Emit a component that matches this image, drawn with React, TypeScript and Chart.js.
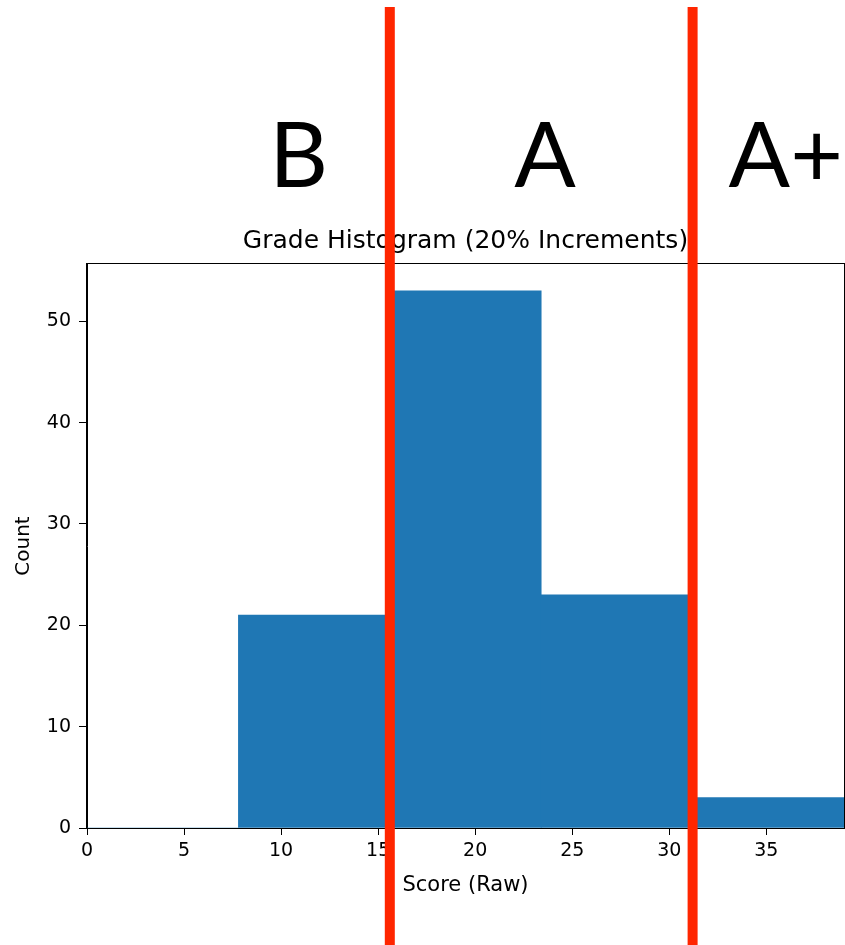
import { useEffect, useRef } from 'react';
import { Chart, registerables } from 'chart.js';

Chart.register(...registerables);

// ---- data ----
const binEdges = [0, 7.8, 15.6, 23.4, 31.2, 39];
const binCounts = [0, 21, 53, 23, 3];
const xTickValues = [0, 5, 10, 15, 20, 25, 30, 35];
const yTickValues = [0, 10, 20, 30, 40, 50];
const yMax = 55.65;
const gradeCutoffs = [15.6, 31.2];
const gradeLetters = ['B', 'A', 'A+'];
const gradeLetterX = [10.9, 23.6, 36.0];
const chartTitle = 'Grade Histogram (20% Increments)';
const xLabel = 'Score (Raw)';
const yLabel = 'Count';

const W = 845;
const H = 945;

const overlayPlugin = {
  id: 'overlay',
  afterDatasetsDraw(chart: any) {
    const { ctx, chartArea: a, scales } = chart;
    ctx.save();
    // title
    ctx.fillStyle = '#000';
    ctx.font = '25px "DejaVu Sans"';
    ctx.textAlign = 'center';
    ctx.textBaseline = 'alphabetic';
    ctx.fillText(chartTitle, (a.left + a.right) / 2, 248);
    // box spines
    ctx.strokeStyle = '#000';
    ctx.lineWidth = 1;
    ctx.strokeRect(a.left - 0.5, a.top - 0.5, a.right - a.left + 1, a.bottom - a.top + 1);
    // red cutoff lines
    ctx.fillStyle = '#ff2600';
    gradeCutoffs.forEach((v) => {
      const x = scales.x.getPixelForValue(v);
      ctx.fillRect(x - 5, 7, 10, H - 7);
    });
    // grade letters
    ctx.fillStyle = '#000';
    ctx.font = '91px Lato';
    ctx.textAlign = 'center';
    gradeLetters.forEach((t, i) => {
      ctx.fillText(t, scales.x.getPixelForValue(gradeLetterX[i]), 187);
    });
    ctx.restore();
  },
};

export default function App() {
  const ref = useRef<HTMLCanvasElement | null>(null);
  useEffect(() => {
    if (!ref.current) return;
    const centers = binCounts.map((_, i) => (binEdges[i] + binEdges[i + 1]) / 2);
    const chart = new Chart(ref.current, {
      type: 'bar',
      data: {
        datasets: [
          {
            data: centers.map((c, i) => ({ x: c, y: binCounts[i] })),
            backgroundColor: '#1f77b4',
            borderWidth: 0,
            barThickness: 'flex',
            categoryPercentage: 1,
            barPercentage: 1,
          } as any,
        ],
      },
      options: {
        animation: false,
        responsive: false,
        devicePixelRatio: 1,
        layout: { padding: { top: 264, right: 1, left: 0, bottom: 0 } },
        plugins: {
          legend: { display: false },
          title: { display: false },
          tooltip: { enabled: false },
        },
        scales: {
          x: {
            type: 'linear',
            offset: false,
            min: binEdges[0],
            max: binEdges[binEdges.length - 1],
            afterBuildTicks: (s: any) => {
              s.ticks = xTickValues.map((v) => ({ value: v }));
            },
            afterFit: (s: any) => {
              s.height = 117;
            },
            grid: { offset: false, drawOnChartArea: false, drawTicks: true, tickLength: 7, color: '#000', lineWidth: 1 },
            border: { display: true, color: '#000', width: 1 },
            ticks: {
              color: '#000',
              padding: 5,
              maxRotation: 0,
              autoSkip: false,
              font: { family: 'DejaVu Sans', size: 19 },
            },
            title: {
              display: true,
              text: xLabel,
              color: '#000',
              font: { family: 'DejaVu Sans', size: 21 },
              padding: { top: 0, bottom: 47 },
            },
          },
          y: {
            type: 'linear',
            min: 0,
            max: yMax,
            afterBuildTicks: (s: any) => {
              s.ticks = yTickValues.map((v) => ({ value: v }));
            },
            afterFit: (s: any) => {
              s.width = 87;
            },
            grid: { drawOnChartArea: false, drawTicks: true, tickLength: 8, color: '#000', lineWidth: 1 },
            border: { display: true, color: '#000', width: 1 },
            ticks: {
              color: '#000',
              padding: 8,
              autoSkip: false,
              font: { family: 'DejaVu Sans', size: 19 },
            },
            title: {
              display: true,
              text: yLabel,
              color: '#000',
              font: { family: 'DejaVu Sans', size: 20 },
              padding: { top: 12, bottom: 0 },
            },
          },
        },
      },
      plugins: [overlayPlugin],
    });
    return () => chart.destroy();
  }, []);
  return (
    <div style={{ position: 'absolute', top: 0, left: 0, width: W, height: H, background: '#fff' }}>
      <canvas ref={ref} width={W} height={H} style={{ display: 'block' }} />
    </div>
  );
}
